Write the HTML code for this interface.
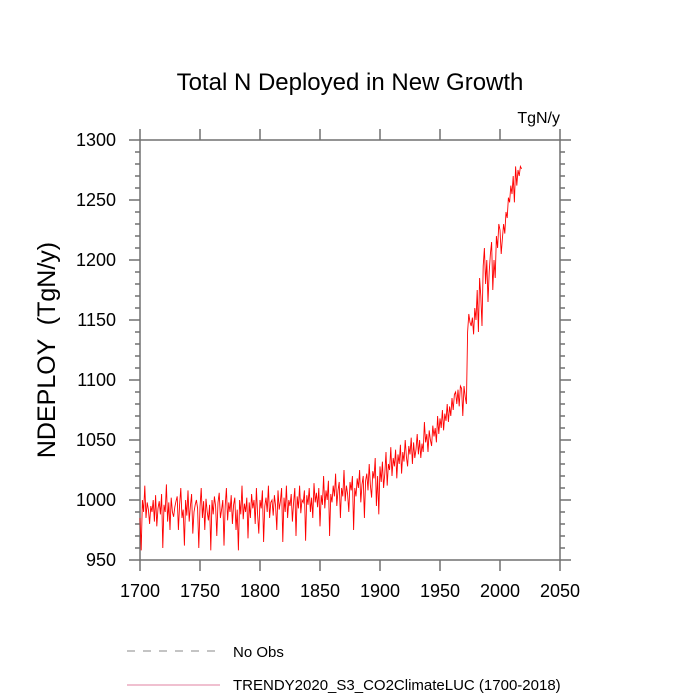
<!DOCTYPE html>
<html><head><meta charset="utf-8"><style>body{margin:0;background:#fff}svg{display:block}text{font-family:"Liberation Sans",sans-serif;fill:#000}</style></head>
<body>
<svg id="chart" width="700" height="700" xmlns="http://www.w3.org/2000/svg">
<text x="350" y="90" font-size="24" text-anchor="middle">Total N Deployed in New Growth</text>
<text x="560" y="123" font-size="16" text-anchor="end">TgN/y</text>
<text transform="translate(55,350) rotate(-90)" font-size="25" text-anchor="middle" xml:space="preserve">NDEPLOY  (TgN/y)</text>
<g id="axes"></g>
<g id="series"></g>
<g>
<line x1="127" y1="651" x2="220" y2="651" stroke="#888" stroke-dasharray="8,8"/>
<text x="233" y="657" font-size="15">No Obs</text>
<line x1="127" y1="685" x2="220" y2="685" stroke="#e080a0"/>
<text x="233" y="690" font-size="15">TRENDY2020_S3_CO2ClimateLUC (1700-2018)</text>
</g>
</svg>
<script>
const startYear = 1700;
const values = [
985,958,1000,990,1012,985,998,992,980,995,
990,1000,982,1004,978,993,999,988,1005,960,
996,990,1013,982,998,975,1002,990,986,994,
999,1003,975,996,1010,985,992,962,1000,987,
1008,982,995,1005,972,990,996,1000,993,960,
994,1010,985,999,975,1001,990,983,996,958,
1000,988,1003,995,970,998,1006,985,992,1000,
962,995,1010,983,998,990,1004,980,996,1002,
975,992,958,1000,988,1012,984,997,990,1002,
968,998,985,1005,993,1000,980,1010,988,972,
1000,993,1008,965,995,1002,990,1012,985,998,
1000,987,1004,995,975,1008,992,999,1010,965,
1002,990,1012,985,1000,995,1005,982,998,1010,
970,1003,993,1012,989,1000,998,1008,966,1004,
996,1010,990,1002,985,1014,998,1006,994,1010,
978,1004,996,1020,993,1008,1000,1016,970,1005,
998,1012,1003,1022,995,1008,1015,985,1010,1003,
1025,999,1012,1005,990,1015,1008,1020,975,1010,
1003,1018,1010,1025,998,1013,1020,985,1016,1022,
1008,1030,1012,1002,1024,1018,1035,995,1020,988,
1028,1015,1032,1010,1022,1040,1012,1030,1025,1044,
1020,1035,1028,1042,1018,1038,1030,1046,1022,1040,
1032,1050,1036,1028,1045,1038,1052,1030,1048,1035,
1042,1055,1038,1050,1035,1047,1040,1065,1048,1055,
1040,1058,1050,1045,1062,1053,1060,1048,1070,1055,
1068,1060,1075,1058,1072,1066,1080,1065,1078,1070,
1085,1075,1088,1090,1080,1092,1078,1095,1093,1070,
1095,1086,1080,1140,1155,1148,1145,1152,1138,1160,
1150,1175,1140,1185,1170,1145,1195,1210,1180,1200,
1165,1190,1205,1215,1175,1200,1185,1220,1210,1230,
1225,1205,1218,1230,1222,1240,1235,1252,1248,1262,
1255,1270,1248,1278,1262,1275,1270,1278,1276];
const xTicks = [1700,1750,1800,1850,1900,1950,2000,2050];
const yTicks = [950,1000,1050,1100,1150,1200,1250,1300];
const X0=140,X1=560,Y0=560,Y1=140;
const xMin=1700,xMax=2050,yMin=950,yMax=1300;
function sx(v){return X0+(v-xMin)/(xMax-xMin)*(X1-X0);}
function sy(v){return Y0-(v-yMin)/(yMax-yMin)*(Y0-Y1);}
const NS="http://www.w3.org/2000/svg";
const ax=document.getElementById('axes');
const AC='#707070';
function mk(t,a,p){const e=document.createElementNS(NS,t);for(const k in a)e.setAttribute(k,a[k]);p.appendChild(e);return e;}
const frame=mk('rect',{x:X0,y:Y1,width:X1-X0,height:Y0-Y1,fill:'none',stroke:AC,'stroke-width':1.5},ax);


xTicks.forEach(v=>{const x=sx(v);
 const t1=mk('line',{x1:x,y1:Y0,x2:x,y2:Y0+11,stroke:AC,'stroke-width':1.5},ax);
 
 
 const t2=mk('line',{x1:x,y1:Y1,x2:x,y2:Y1-11,stroke:AC,'stroke-width':1.5},ax);
 
 });
for(let v=yMin;v<=yMax;v+=10){const y=sy(v),L=(v%50===0)?11:5;
 const t1=mk('line',{x1:X0,y1:y,x2:X0-L,y2:y,stroke:AC,'stroke-width':1.5},ax);
 
 
 const t2=mk('line',{x1:X1,y1:y,x2:X1+L,y2:y,stroke:AC,'stroke-width':1.5},ax);
 
 }
xTicks.forEach(v=>{const t=mk('text',{x:sx(v),y:Y0+37,'font-size':18,'text-anchor':'middle'},ax);t.textContent=v;
 
 });
yTicks.forEach(v=>{const t=mk('text',{x:X0-24,y:sy(v)+6,'font-size':18,'text-anchor':'end'},ax);t.textContent=v;
 
 });
const pts=values.map((v,i)=>sx(startYear+i).toFixed(2)+','+sy(v).toFixed(2)).join(' ');
const pl=mk('polyline',{points:pts,fill:'none',stroke:'#ff0000','stroke-width':0.9},document.getElementById('series'));


</script>
</body></html>
